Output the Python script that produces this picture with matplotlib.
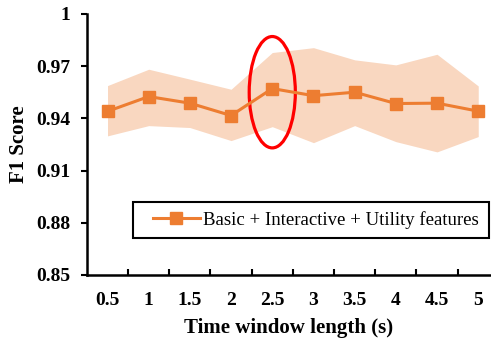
import numpy as np
import matplotlib.pyplot as plt
from matplotlib.patches import Ellipse, Rectangle

# data
windows = ['0.5', '1', '1.5', '2', '2.5', '3', '3.5', '4', '4.5', '5']
f1_mean = [0.944, 0.9525, 0.9487, 0.9416, 0.9571, 0.9530, 0.9550, 0.9485, 0.9487, 0.9441]
f1_upper = [0.9588, 0.9682, 0.9625, 0.9567, 0.9778, 0.9806, 0.9736, 0.9707, 0.9768, 0.9586]
f1_lower = [0.9299, 0.9358, 0.9347, 0.9272, 0.9352, 0.9260, 0.9358, 0.9266, 0.9207, 0.9295]
yticks = [0.85, 0.88, 0.91, 0.94, 0.97, 1.0]
ytick_labels = ['0.85', '0.88', '0.91', '0.94', '0.97', '1']

plt.rcParams['font.family'] = ['Liberation Serif', 'DejaVu Serif']

fig = plt.figure(figsize=(4.91, 3.39), dpi=100)
ax = fig.add_axes([0.177, 0.189, 0.823, 0.770])

x = np.arange(len(windows))
ax.fill_between(x, f1_lower, f1_upper, color='#F9D7C0', lw=0)
ax.plot(x, f1_mean, color='#ED7D31', lw=2.2, marker='s', markersize=8.5,
        label='Basic + Interactive + Utility features')

# highlight at 2.5 s
ax.add_patch(Ellipse((4, 0.955), 1.12, 0.064, fill=False, ec='#FF0000', lw=2.3))

ax.set_xlim(-0.5, 9.31)
ax.set_ylim(0.85, 1.0)
ax.set_yticks(yticks)
ax.set_yticklabels(ytick_labels)
ax.set_xticks(x)
ax.set_xticklabels(windows)
ax.set_xticks(np.arange(0.5, 9.5, 1), minor=True)
ax.tick_params(axis='x', which='major', length=0, pad=12)
ax.tick_params(axis='x', which='minor', direction='in', length=4, width=1.5)
ax.tick_params(axis='y', direction='out', length=4, width=1.5, pad=8)
for lab in ax.get_xticklabels() + ax.get_yticklabels():
    lab.set_fontsize(14)
    lab.set_fontweight('bold')

for s in ['top', 'right']:
    ax.spines[s].set_visible(False)
for s in ['left', 'bottom']:
    ax.spines[s].set_linewidth(1.8)

ax.set_xlabel('Time window length (s)', fontsize=15, fontweight='bold', labelpad=7)
ax.set_ylabel('F1 Score', fontsize=15, fontweight='bold', labelpad=5)

# legend with a hand-placed frame (wider left padding than matplotlib's)
leg = ax.legend(loc='center left', bbox_to_anchor=(0.163, 0.211), fontsize=13.5,
                frameon=False, borderpad=0, handlelength=2.5, handletextpad=0.2,
                borderaxespad=0)
ax.add_patch(Rectangle((0.114, 0.142), 0.881, 0.138, transform=ax.transAxes,
                       fill=False, ec='black', lw=1.5, zorder=4))

fig.savefig('out.png', dpi=100)
